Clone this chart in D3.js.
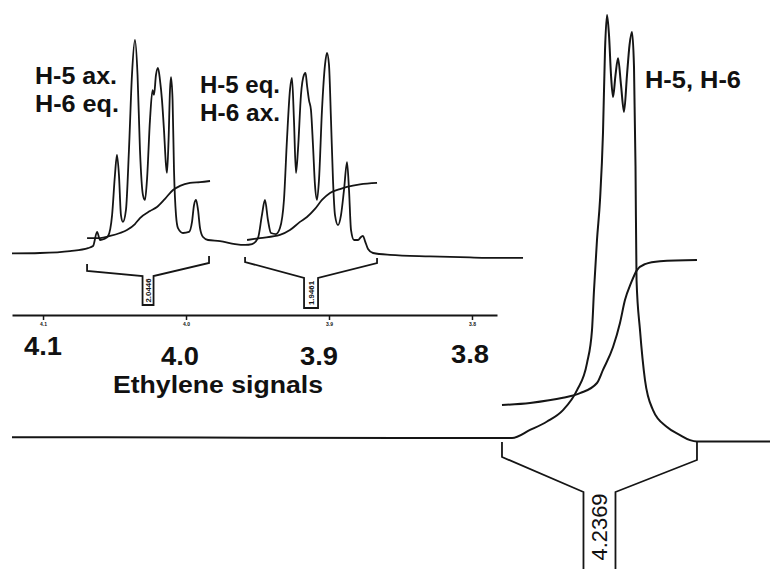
<!DOCTYPE html>
<html>
<head>
<meta charset="utf-8">
<script src="https://cdn.jsdelivr.net/npm/d3@7/dist/d3.min.js"></script>
<style>
  html, body { margin: 0; padding: 0; background: #fff; }
  svg { display: block; }
  text { font-family: "Liberation Sans", Arial, sans-serif; fill: #111; }
</style>
</head>
<body>
<svg id="chart" width="770" height="569"></svg>
<script>
// ---- Expanded ethylene region (ppm, relative intensity) ----
const insetPpm = [4.1217, 4.1021, 4.0811, 4.0685, 4.0650, 4.0622, 4.0601, 4.0573, 4.0545, 4.0517,
  4.0497, 4.0483, 4.0469, 4.0455, 4.0441, 4.0420, 4.0399, 4.0378, 4.0357, 4.0339,
  4.0322, 4.0301, 4.0287, 4.0273, 4.0252, 4.0234, 4.0224, 4.0210, 4.0196, 4.0182,
  4.0168, 4.0154, 4.0140, 4.0133, 4.0122, 4.0112, 4.0105, 4.0094, 4.0084, 4.0070,
  4.0056, 4.0021, 3.9979, 3.9958, 3.9944, 3.9930, 3.9916, 3.9902, 3.9881, 3.9846,
  3.9762, 3.9657, 3.9587, 3.9538, 3.9497, 3.9469, 3.9448, 3.9427, 3.9406, 3.9371,
  3.9343, 3.9315, 3.9294, 3.9273, 3.9259, 3.9245, 3.9231, 3.9217, 3.9196, 3.9175,
  3.9164, 3.9154, 3.9140, 3.9126, 3.9112, 3.9098, 3.9084, 3.9070, 3.9049, 3.9028,
  3.9014, 3.9000, 3.8986, 3.8972, 3.8958, 3.8937, 3.8916, 3.8895, 3.8874, 3.8860,
  3.8846, 3.8825, 3.8797, 3.8776, 3.8762, 3.8748, 3.8727, 3.8692, 3.8573, 3.8294,
  3.8014, 3.7804, 3.7643];
const insetIntensity = [-0.2, 0, 0.9, 2.3, 3.3, 9.9, 6.1, 6.6, 8.0, 17.8,
  36.6, 46.0, 36.6, 17.8, 14.6, 20.2, 48.4, 83.6, 100, 83.6,
  48.4, 27.2, 24.9, 34.3, 62.4, 76.5, 74.2, 83.6, 86.9, 81.2,
  71.8, 57.7, 41.3, 37.6, 53.1, 76.5, 82.6, 71.8, 39.0, 17.8,
  11.7, 9.4, 9.9, 14.6, 22.5, 24.9, 20.2, 11.7, 7.5, 6.1,
  5.6, 4.2, 3.8, 4.2, 7.0, 17.8, 24.9, 15.5, 9.4, 8.9,
  11.7, 24.9, 53.1, 76.5, 82.2, 62.4, 37.6, 48.4, 74.2, 83.6,
  84.5, 78.9, 71.8, 67.1, 50.7, 31.9, 24.9, 34.3, 67.1, 88.3,
  93.9, 88.3, 62.4, 34.3, 17.8, 13.1, 17.8, 29.6, 42.7, 29.6,
  10.8, 6.1, 6.1, 7.5, 8.0, 5.6, 1.9, 0, -0.9, -1.6,
  -2.1, -2.3, -2.3];

// Integral traces over the two ethylene multiplets
const integral1Ppm = [4.0692, 4.0601, 4.0531, 4.0462, 4.0413, 4.0357, 4.0322, 4.0252, 4.0203, 4.0147, 4.0091, 4.0042, 3.9972, 3.9902, 3.9832];
const integral1Int = [7.0, 7.0, 8.0, 9.4, 10.8, 13.6, 16.4, 19.7, 21.6, 25.4, 29.6, 31.5, 32.9, 33.3, 33.8];
const integral2Ppm = [3.9573, 3.9483, 3.9343, 3.9273, 3.9203, 3.9154, 3.9098, 3.9049, 3.8993, 3.8923, 3.8874, 3.8783, 3.8664];
const integral2Int = [6.1, 7.0, 8.5, 10.8, 14.6, 16.9, 20.7, 24.9, 28.2, 30.0, 31.0, 32.2, 32.9];

// Integration regions and their values
const insetRegionStart = [4.0692, 3.9587];
const insetRegionEnd = [3.9839, 3.8664];
const insetRegionValue = ["2.0446", "1.9461"];

// Axis ticks of the expansion
const tickValues = [4.1, 4.0, 3.9, 3.8];
const tickLabels = ["4.1", "4.0", "3.9", "3.8"];

// ---- Full-width trace with the H-5/H-6 signal ----
const mainPpm = [4.5000, 4.2024, 3.8857, 3.7084, 3.6799, 3.6530, 3.6277, 3.6055, 3.5897, 3.5818,
  3.5786, 3.5739, 3.5691, 3.5644, 3.5612, 3.5580, 3.5549, 3.5517, 3.5485, 3.5446,
  3.5406, 3.5359, 3.5311, 3.5264, 3.5224, 3.5185, 3.5153, 3.5129, 3.5113, 3.5058,
  3.4979, 3.4852, 3.4631, 3.4425, 3.4266, 3.4156, 3.3000];
const mainIntensity = [0.2, 0.1, 0, 0, 1.9, 3.9, 6.6, 11.3, 17.7, 25.5,
  35.0, 46.8, 56.3, 72.1, 91.7, 100, 95.3, 85.8, 80.6, 85.8,
  89.8, 83.5, 77.1, 85.8, 92.9, 96.0, 87.7, 64.1, 37.4, 25.5,
  13.7, 6.6, 2.6, 0.7, -0.5, -0.8, -0.8];
const mainIntegralPpm = [3.7243, 3.6799, 3.6277, 3.6008, 3.5739, 3.5644, 3.5485, 3.5375, 3.5296, 3.5201, 3.5106, 3.4979, 3.4741, 3.4156];
const mainIntegralInt = [7.8, 8.3, 9.5, 10.6, 13.0, 16.1, 21.5, 27.2, 32.6, 36.6, 39.7, 41.1, 41.8, 42.1];
const mainRegion = [3.7243, 3.4156];
const mainRegionValue = "4.2369";

// Signal assignments
const labelAx = ["H-5 ax.", "H-6 eq."];
const labelEq = ["H-5 eq.", "H-6 ax."];
const labelMain = "H-5, H-6";
const insetTitle = "Ethylene signals";

// ---- Scales ----
const xInset = d3.scaleLinear().domain([4.1217, 3.7825]).range([12, 497]);
const yInset = d3.scaleLinear().domain([0, 100]).range([253, 40]);
const xMain = d3.scaleLinear().domain([4.5, 3.3]).range([12, 770]);
const yMain = d3.scaleLinear().domain([0, 100]).range([438, 15]);

const svg = d3.select("#chart");
const ink = "#151515";

function trace(xs, ys, sx, sy, width) {
  const pts = xs.map((d, i) => [d, ys[i]]);
  const line = d3.line()
    .x(d => sx(d[0]))
    .y(d => sy(d[1]))
    .curve(d3.curveMonotoneX);
  svg.append("path")
    .datum(pts)
    .attr("d", line)
    .attr("fill", "none")
    .attr("stroke", ink)
    .attr("stroke-width", width)
    .attr("stroke-linejoin", "round");
}

// Integration bracket: two arms narrowing into a label box
function bracket(p1, p2, sx, topL, topR, armL, armR, neck, boxW, boxBottom, closed, label, fontSize, labelLen) {
  const xl = sx(p1), xr = sx(p2);
  const cx = (xl + xr) / 2;
  const bl = cx - boxW / 2, br = cx + boxW / 2;
  const path = d3.path();
  path.moveTo(xl, topL); path.lineTo(xl, armL); path.lineTo(bl, neck); path.lineTo(bl, boxBottom);
  if (closed) path.lineTo(br, boxBottom); else path.moveTo(br, boxBottom);
  path.lineTo(br, neck); path.lineTo(xr, armR); path.lineTo(xr, topR);
  svg.append("path").attr("d", path.toString())
    .attr("fill", "none").attr("stroke", ink).attr("stroke-width", 1.8)
    .attr("stroke-linejoin", "miter");
  const cy = closed ? (neck + boxBottom) / 2 : neck + 35;
  const t = svg.append("text")
    .attr("transform", `translate(${cx},${cy}) rotate(-90)`)
    .attr("text-anchor", "middle")
    .attr("dominant-baseline", "central")
    .attr("font-size", fontSize)
    .attr("font-weight", closed ? "bold" : "normal")
    .text(label);
  if (labelLen) t.attr("textLength", labelLen).attr("lengthAdjust", "spacingAndGlyphs");
}

// ---- Main trace, integral and bracket ----
trace(mainPpm, mainIntensity, xMain, yMain, 2);
trace(mainIntegralPpm, mainIntegralInt, xMain, yMain, 2);
bracket(mainRegion[0], mainRegion[1], xMain, 442, 442, 457, 460, 492, 32, 575, false, mainRegionValue, 22, 67);

// ---- Expanded region ----
trace(insetPpm, insetIntensity, xInset, yInset, 1.8);
trace(integral1Ppm, integral1Int, xInset, yInset, 1.8);
trace(integral2Ppm, integral2Int, xInset, yInset, 1.8);
bracket(insetRegionStart[0], insetRegionEnd[0], xInset, 264, 256, 271, 263, 276, 11, 305, true, insetRegionValue[0], 7, 24);
bracket(insetRegionStart[1], insetRegionEnd[1], xInset, 257, 258, 262, 263, 278, 14, 308, true, insetRegionValue[1], 7, 24);

// ppm axis of the expansion
const axis = d3.axisBottom(xInset)
  .tickValues(tickValues)
  .tickSize(5)
  .tickSizeOuter(0)
  .tickPadding(2)
  .tickFormat((d, i) => tickLabels[i]);
const gAxis = svg.append("g").attr("transform", "translate(0,315)").call(axis);
gAxis.select(".domain").attr("stroke", ink).attr("stroke-width", 2.2);
gAxis.selectAll(".tick line").attr("stroke", ink).attr("stroke-width", 1.5);
gAxis.selectAll(".tick text")
  .attr("font-size", 5)
  .attr("font-weight", "bold")
  .attr("fill", "#333")
  .attr("font-family", "Liberation Sans, Arial, sans-serif");

// Large hand-placed ppm labels below the axis
const bigOffsets = [[0, 40], [-6, 50], [-10, 50], [-2, 48]];
svg.selectAll("text.big")
  .data(tickValues)
  .join("text")
  .attr("class", "big")
  .attr("x", (d, i) => xInset(d) + bigOffsets[i][0])
  .attr("y", (d, i) => 315 + bigOffsets[i][1])
  .attr("text-anchor", "middle")
  .attr("font-size", 25)
  .attr("font-weight", "bold")
  .attr("textLength", 38)
  .attr("lengthAdjust", "spacingAndGlyphs")
  .text((d, i) => tickLabels[i]);

svg.append("text")
  .attr("x", 113).attr("y", 393)
  .attr("font-size", 23).attr("font-weight", "bold")
  .attr("textLength", 210).attr("lengthAdjust", "spacingAndGlyphs")
  .text(insetTitle);

// Assignment labels
function labelBlock(lines, x, y0, lead, widths) {
  lines.forEach((s, i) => {
    svg.append("text")
      .attr("x", x).attr("y", y0 + i * lead)
      .attr("font-size", 24).attr("font-weight", "bold")
      .attr("textLength", widths[i]).attr("lengthAdjust", "spacingAndGlyphs")
      .text(s);
  });
}
labelBlock(labelAx, 35, 84, 28, [82, 84]);
labelBlock(labelEq, 200, 93, 28, [80, 80]);
svg.append("text")
  .attr("x", 645).attr("y", 88)
  .attr("font-size", 23).attr("font-weight", "bold")
  .attr("textLength", 96).attr("lengthAdjust", "spacingAndGlyphs")
  .text(labelMain);
</script>
</body>
</html>
